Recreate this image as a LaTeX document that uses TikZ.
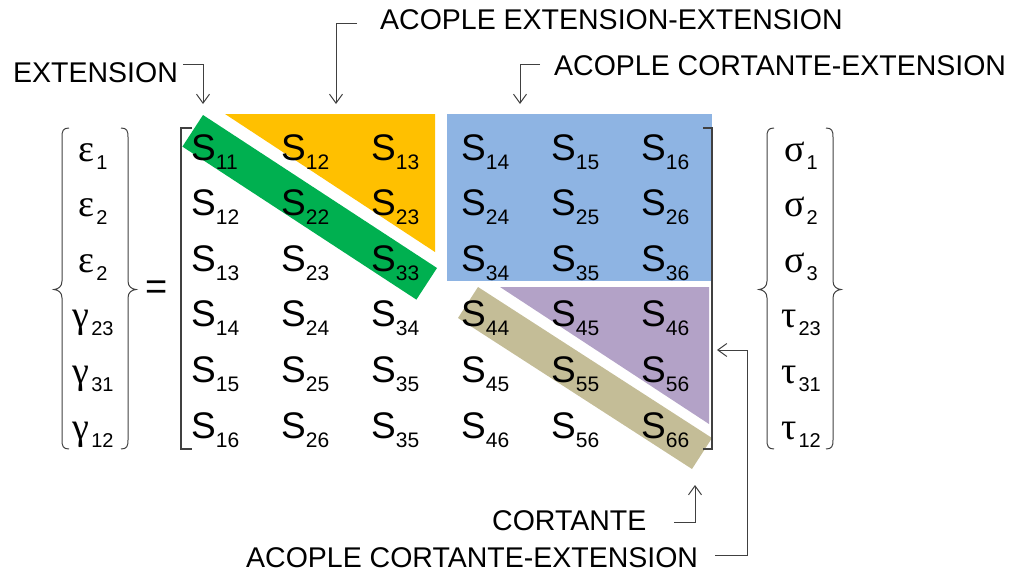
\documentclass[tikz,border=0pt]{standalone}
\usepackage{fontspec}
\setmainfont{Liberation Sans}
\newfontfamily\gkfont{Liberation Serif}
\usetikzlibrary{arrows.meta}
\definecolor{cOrange}{HTML}{FFC000}
\definecolor{cGreen}{HTML}{00B050}
\definecolor{cBlue}{HTML}{8EB4E3}
\definecolor{cPurple}{HTML}{B3A2C7}
\definecolor{cTan}{HTML}{C4BD97}
\definecolor{cLine}{HTML}{404040}
\newcommand\Sij[1]{S\raisebox{-9pt}{\fontsize{21}{21}\selectfont #1}}
\newcommand\Gk[2]{{\gkfont #1}\kern2pt\raisebox{-8pt}{\fontsize{20}{20}\selectfont #2}}
\tikzset{
  ent/.style={inner sep=0pt, font=\fontsize{37}{40}\selectfont, anchor=base west},
  vec/.style={inner sep=0pt, font=\fontsize{38}{40}\selectfont, anchor=base},
  lbl/.style={inner sep=0pt, font=\fontsize{28.5}{30}\selectfont, anchor=base west},
  brk/.style={draw=cLine, line width=1.1pt},
  arr/.style={draw=cLine, line width=1pt, -{Straight Barb[length=9pt,width=13pt,line width=1pt]}},
}
\begin{document}
\begin{tikzpicture}[x=1pt,y=-1pt]
\useasboundingbox (0,0) rectangle (1012,578);
% coloured regions
\fill[cOrange] (225,114) -- (435,114) -- (435,252) -- cycle;
\fill[cGreen] (203,115) -- (437,268) -- (416.4,299.6) -- (182.4,146.6) -- cycle;
\fill[cBlue] (447,114) rectangle (712,281);
\fill[cPurple] (500,287) -- (709,287) -- (709,424) -- cycle;
\fill[cTan] (478,287) -- (712,438) -- (692,469) -- (458,318) -- cycle;
% matrix entries
\foreach \r/\row in {1/{11,12,13,14,15,16},2/{12,22,23,24,25,26},3/{13,23,33,34,35,36},4/{14,24,34,44,45,46},5/{15,25,35,45,55,56},6/{16,26,35,46,56,66}}{
  \foreach \v [count=\c] in \row {
    \node[ent] (s\r\c) at ({191+90*(\c-1)},{160+55.6*(\r-1)}) {\Sij{\v}};
  }
}
% matrix brackets
\draw[brk] (192,128) -- (181,128) -- (181,449) -- (192,449);
\draw[brk] (703,128) -- (712,128) -- (712,449) -- (703,449);
% left vector
\foreach \g/\s [count=\r] in {\char"03B5/1,\char"03B5/2,\char"03B5/2,\char"03B3/23,\char"03B3/31,\char"03B3/12}{
  \node[vec] (e\r) at (93,{161+55.6*(\r-1)}) {\Gk{\g}{\s}};
}
% right vector
\foreach \g/\s [count=\r] in {\char"03C3/1,\char"03C3/2,\char"03C3/3,\char"03C4/23,\char"03C4/31,\char"03C4/12}{
  \node[vec] (t\r) at (801,{161+55.6*(\r-1)}) {\Gk{\g}{\s}};
}
% braces
\foreach \X/\sc in {62/1,128/-1,767/1,833/-1}{
  \begin{scope}[shift={(\X,0)}, xscale=\sc]
    \draw[brk, line width=1pt] (7,128) .. controls (1,128) and (0,131) .. (0,137) -- (0,281)
      .. controls (0,287) and (-4,289) .. (-8,289.5)
      .. controls (-4,290) and (0,292) .. (0,298) -- (0,440)
      .. controls (0,446) and (1,449) .. (7,449);
  \end{scope}
}
% equals
\node[inner sep=0pt, font=\fontsize{38}{38}\selectfont] (eq) at (157,290) {=};
% labels
\node[lbl] (ext) at (13,82) {EXTENSION};
\node[lbl] (aee) at (380,30) {ACOPLE EXTENSION-EXTENSION};
\node[lbl] (acetop) at (554,75) {ACOPLE CORTANTE-EXTENSION};
\node[lbl] (cor) at (492,530) {CORTANTE};
\node[lbl] (acebot) at (246,567) {ACOPLE CORTANTE-EXTENSION};
% arrows
\coordinate (a1s) at (183,65);  \coordinate (a1t) at (203,104);
\coordinate (a2s) at (357,24);  \coordinate (a2t) at (336,104);
\coordinate (a3s) at (540,65);  \coordinate (a3t) at (520,104);
\coordinate (a4s) at (674,522); \coordinate (a4t) at (695,485);
\coordinate (a5s) at (715,555); \coordinate (a5m) at (747,350); \coordinate (a5t) at (717,350);
\draw[arr] (a1s) -| (a1t);
\draw[arr] (a2s) -| (a2t);
\draw[arr] (a3s) -| (a3t);
\draw[arr] (a4s) -| (a4t);
\draw[arr] (a5s) -| (a5m) -- (a5t);
\end{tikzpicture}
\end{document}
